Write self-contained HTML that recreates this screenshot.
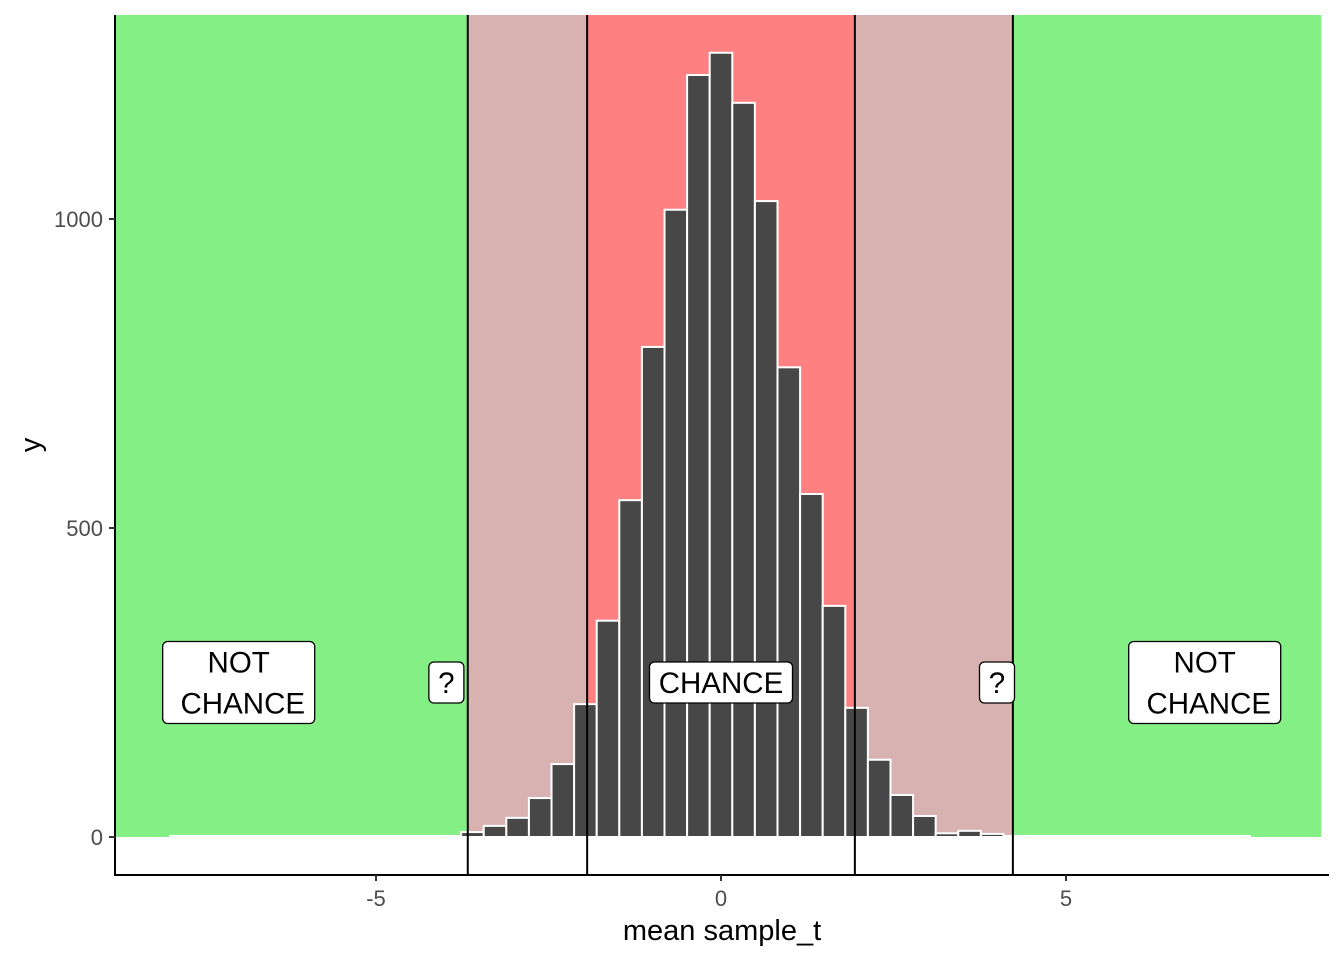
<!DOCTYPE html>
<html><head><meta charset="utf-8"><style>
html,body{margin:0;padding:0;background:#fff;}
svg{display:block;font-family:"Liberation Sans",Arial,sans-serif;}
svg text{white-space:pre;}
</style></head><body>
<svg id="chart" width="1344" height="960" viewBox="0 0 1344 960" xmlns="http://www.w3.org/2000/svg"></svg>
<script>
const binCenters = [-11,-10,-9,-8,-7,-6,-5,-4,-3,-2,-1,0,1,2,3,4,5,6,7,8,9,10,11,12];
const counts = [8,18,31,63,118,215,350,545,793,1015,1233,1269,1188,1029,760,555,374,209,125,68,34,6,10,5];
const binWidth = 0.3275;
const regionBounds = [-8.89, -3.67, -1.94, 1.94, 4.23, 8.7];
const regionColors = ["#84EF84","#D8B1B1","#FF8080","#D8B1B1","#84EF84"];
const regionNames = ["not-chance-left","uncertain-left","chance","uncertain-right","not-chance-right"];
const vlines = [-3.67, -1.94, 1.94, 4.23];
const xTicks = [-5, 0, 5];
const yTicks = [0, 500, 1000];
const labelTexts = [["NOT"," CHANCE"],["?"],["CHANCE"],["?"],["NOT"," CHANCE"]];
const labelX = [-6.99, -3.98, 0, 4.0, 7.01];
const labelY = 250;

const L=115,R=1329,T=15,B=875;
const xs = v => 721 + v*69;
const ys = v => 837 - v*0.618;
const svg = document.getElementById('chart');
const NS='http://www.w3.org/2000/svg';
function mk(tag, attrs, parent){const e=document.createElementNS(NS,tag);for(const k in attrs)e.setAttribute(k,attrs[k]);(parent||svg).appendChild(e);return e;}

for(let i=0;i<regionColors.length;i++){
  const x0=Math.max(L,xs(regionBounds[i])), x1=Math.min(R,xs(regionBounds[i+1]));
  const r=mk('rect',{x:x0,y:T,width:x1-x0,height:ys(0)-T,fill:regionColors[i]});
  
  
}
const zl=mk('line',{x1:169,x2:1251,y1:ys(0)-1,y2:ys(0)-1,stroke:'#fff','stroke-width':2});


for(let i=0;i<binCenters.length;i++){
  const c=binCenters[i]*binWidth;
  const x0=xs(c-binWidth/2), x1=xs(c+binWidth/2);
  const b=mk('rect',{x:x0,y:ys(counts[i]),width:x1-x0,height:ys(0)-ys(counts[i]),fill:'#474747',stroke:'#fff','stroke-width':2});
  
  
}
for(const v of vlines){
  const l=mk('line',{x1:xs(v),x2:xs(v),y1:T,y2:B,stroke:'#000','stroke-width':2});
  
  
}
for(let i=0;i<labelTexts.length;i++){
  const lines=labelTexts[i];
  const g=mk('g',{});
  
  
  const cx=xs(labelX[i]), cy=ys(labelY);
  const lh=41;
  const maxLen=Math.max(...lines.map(s=>s.length));
  const w = maxLen<=1 ? 35 : (maxLen>=7 ? 152 : 143);
  const h=lines.length===1 ? 41 : 82;
  mk('rect',{x:cx-w/2,y:cy-h/2,width:w,height:h,rx:5,fill:'#fff',stroke:'#000','stroke-width':1.3},g);
  lines.forEach((s,j)=>{
    const t=mk('text',{x:cx,y:cy-h/2+31+j*lh,'text-anchor':'middle','font-size':29.5,fill:'#000'},g);
    t.textContent=s;
  });
}
const ax=mk('line',{x1:L,x2:R,y1:B,y2:B,stroke:'#000','stroke-width':2});


const ay=mk('line',{x1:L,x2:L,y1:T,y2:B+1,stroke:'#000','stroke-width':2});


for(const v of xTicks){
  mk('line',{x1:xs(v),x2:xs(v),y1:B,y2:B+6,stroke:'#333','stroke-width':2});
  const t=mk('text',{x:xs(v),y:906,'text-anchor':'middle','font-size':22,fill:'#4D4D4D'});
  t.textContent=v;
  
  
}
for(const v of yTicks){
  mk('line',{x1:L-6,x2:L,y1:ys(v),y2:ys(v),stroke:'#333','stroke-width':2});
  const t=mk('text',{x:L-12,y:ys(v)+8,'text-anchor':'end','font-size':22,fill:'#4D4D4D'});
  t.textContent=v;
  
  
}
const xt=mk('text',{x:722,y:940,'text-anchor':'middle','font-size':29,fill:'#000'});
xt.textContent='mean sample_t';


const yt=mk('text',{x:0,y:0,'text-anchor':'middle','font-size':29,fill:'#000',transform:'translate(40,445) rotate(-90)'});
yt.textContent='y';


</script>
</body></html>
